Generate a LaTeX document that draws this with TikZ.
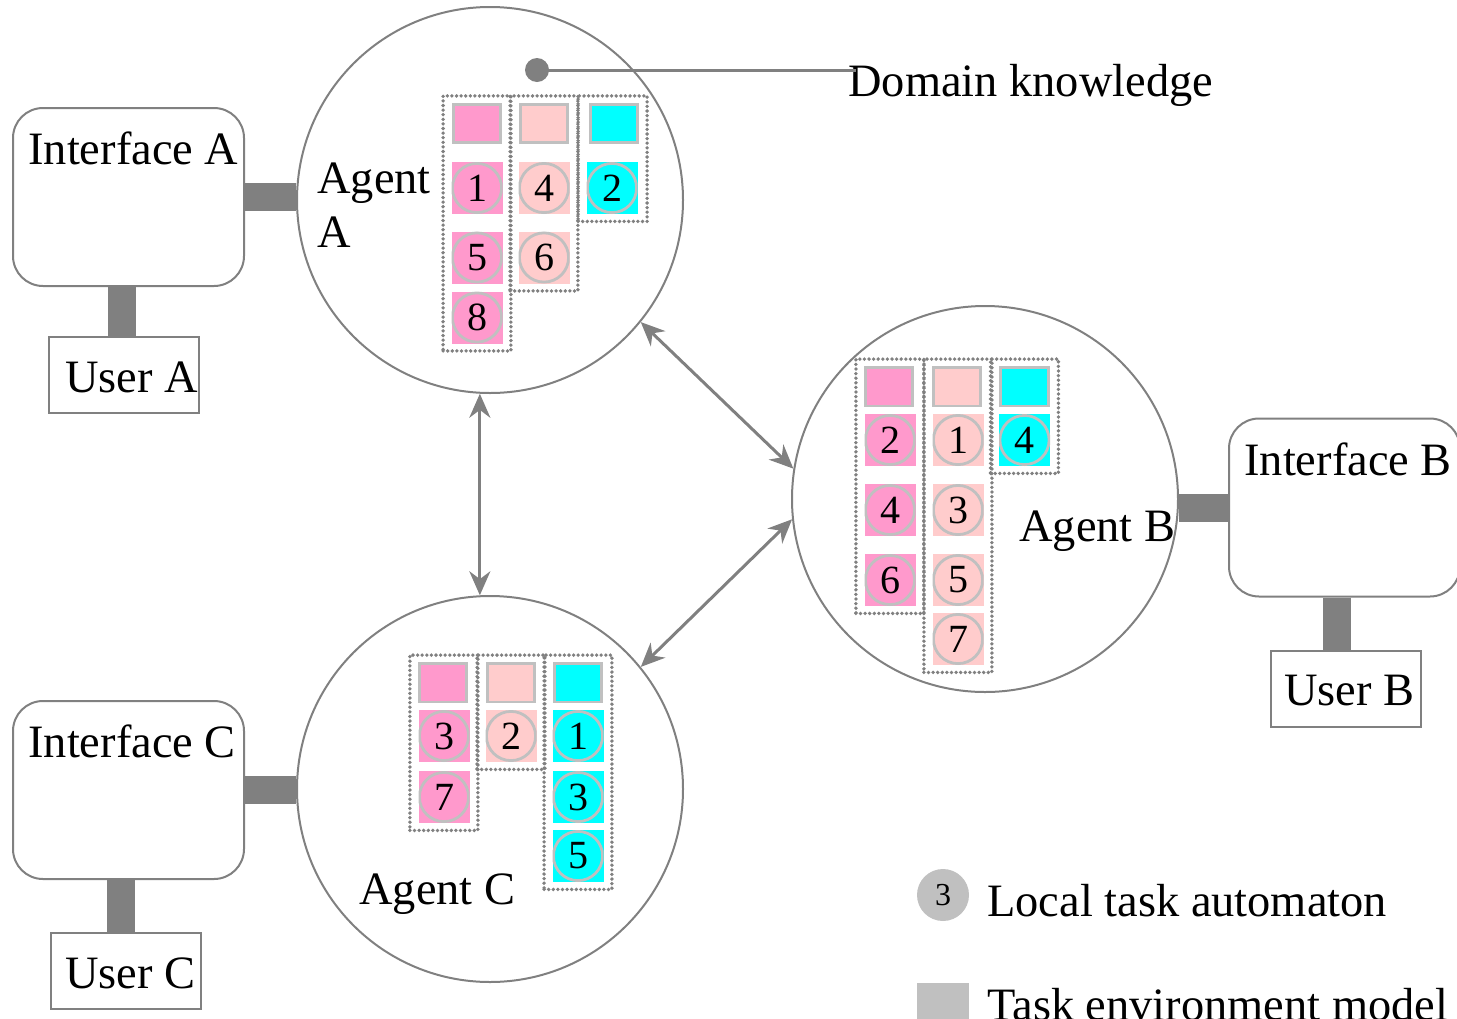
\documentclass[tikz,border=0pt]{standalone}
\usepackage{fontspec}
\setmainfont{Liberation Serif}
\usetikzlibrary{arrows.meta,fit}

\definecolor{hotpink}{RGB}{255,153,204}
\definecolor{palepink}{RGB}{255,204,204}
\definecolor{aqua}{RGB}{0,255,255}
\definecolor{ringgray}{RGB}{192,192,192}
\definecolor{linegray}{RGB}{128,128,128}

\newcommand{\cellfont}{\fontsize{20}{24}\selectfont}
\newcommand{\keyfont}{\fontsize{16}{19}\selectfont}

\tikzset{
  agent/.style = {circle, draw=linegray, line width=1pt, minimum size=193pt, inner sep=0pt},
  iface/.style = {rectangle, rounded corners=15pt, draw=linegray, line width=1pt, minimum width=115.5pt, minimum height=89pt},
  user/.style = {rectangle, draw=linegray, line width=1pt, minimum width=75pt, minimum height=38pt},
  txt/.style = {inner sep=0pt, anchor=base west},
  envmodel/.style = {rectangle, fill=#1, draw=ringgray, line width=1.4pt, minimum width=23.7pt, minimum height=19.2pt, inner sep=0pt},
  automaton/.style = {rectangle, fill=#1, minimum width=25.5pt, minimum height=26pt, inner sep=0pt, font=\cellfont,
    path picture={\draw[ringgray, line width=1.4pt] (path picture bounding box.center) circle (12.3pt);}},
  colgroup/.style = {draw=linegray, line width=1.9pt, dash pattern=on 0pt off 2.3pt, line cap=round, inner xsep=4pt, inner ysep=3.5pt},
  bar/.style = {draw=linegray, line width=14pt},
  link/.style = {draw=linegray, line width=1.5pt, {Stealth[length=12pt,width=10.5pt]}-{Stealth[length=12pt,width=10.5pt]}}
}

\begin{document}
\begin{tikzpicture}[x={(0.5pt,0)}, y={(0,-0.5pt)}, font=\fontsize{23.2}{27}\selectfont]
  \useasboundingbox (0,0) rectangle (1457,1018);

  % interfaces and users
  \node [iface] (ifA) at (128.5,197) {};
  \node [iface] (ifB) at (1344.5,507.5) {};
  \node [iface] (ifC) at (128.5,790) {};
  \node [user] (usrA) at (124,375) {};
  \node [user] (usrB) at (1345.5,689) {};
  \node [user] (usrC) at (126,970.5) {};
  \node [txt] (ifAtxt) at (28,164) {Interface A};
  \node [txt] (ifBtxt) at (1244,475) {Interface B};
  \node [txt] (ifCtxt) at (28,757) {Interface C};
  \node [txt] (usrAtxt) at (65,392) {User A};
  \node [txt] (usrBtxt) at (1284,705) {User B};
  \node [txt] (usrCtxt) at (65,988) {User C};

  % agents
  \node [agent] (agA) at (490,200) {};
  \node [agent] (agB) at (985,499) {};
  \node [agent] (agC) at (490,789) {};
  \node [inner sep=0pt, anchor=north west, align=left] (agAtxt) at (317,162) {Agent\\A};
  \node [txt] (agBtxt) at (1019,541) {Agent B};
  \node [txt] (agCtxt) at (359,904) {Agent C};

  % thick couplings
  \coordinate (uatop) at ([xshift=-0.8pt]usrA.north);
  \coordinate (ubtop) at ([xshift=-4.5pt]usrB.north);
  \coordinate (uctop) at ([xshift=-2.5pt]usrC.north);
  \draw [bar] (ifA.east) -- (ifA.east -| agA.west);
  \draw [bar] (ifC.east) -- (ifC.east -| agC.west);
  \draw [bar] (ifB.west) -- (ifB.west -| agB.east);
  \draw [bar] (uatop |- ifA.south) -- (uatop);
  \draw [bar] (uctop |- ifC.south) -- (uctop);
  \draw [bar] (ubtop |- ifB.south) -- (ubtop);

  % agent A models
  \node [envmodel=hotpink] (apm) at (477,123.5) {};
  \node [envmodel=palepink] (alm) at (544,123.5) {};
  \node [envmodel=aqua] (acm) at (614,123.5) {};
  \node [automaton=hotpink] (ap1) at (477,188) {1};
  \node [automaton=hotpink] (ap5) at (477,257.5) {5};
  \node [automaton=hotpink] (ap8) at (477,317.5) {8};
  \node [automaton=palepink] (al4) at (544,188) {4};
  \node [automaton=palepink] (al6) at (544,257.5) {6};
  \node [automaton=aqua] (ac2) at (612,188) {2};
  \node [colgroup, fit=(apm)(ap8)] (agrpp) {};
  \node [colgroup, fit=(alm)(al6)] (agrpl) {};
  \node [colgroup, fit=(acm)(ac2)] (agrpc) {};

  % agent B models
  \node [envmodel=hotpink] (bpm) at (889,386.7) {};
  \node [envmodel=palepink] (blm) at (957,386.7) {};
  \node [envmodel=aqua] (bcm) at (1024.5,386.7) {};
  \node [automaton=hotpink] (bp2) at (890,440) {2};
  \node [automaton=hotpink] (bp4) at (890,510) {4};
  \node [automaton=hotpink] (bp6) at (890,580) {6};
  \node [automaton=palepink] (bl1) at (958,440) {1};
  \node [automaton=palepink] (bl3) at (958,510) {3};
  \node [automaton=palepink] (bl5) at (958,580) {5};
  \node [automaton=palepink] (bl7) at (958,639) {7};
  \node [automaton=aqua] (bc4) at (1024.5,440) {4};
  \node [colgroup, fit=(bpm)(bp6)] (bgrpp) {};
  \node [colgroup, fit=(blm)(bl7)] (bgrpl) {};
  \node [colgroup, fit=(bcm)(bc4)] (bgrpc) {};

  % agent C models
  \node [envmodel=hotpink] (cpm) at (443,682.7) {};
  \node [envmodel=palepink] (clm) at (511,682.7) {};
  \node [envmodel=aqua] (ccm) at (578,682.7) {};
  \node [automaton=hotpink] (cp3) at (444,736) {3};
  \node [automaton=hotpink] (cp7) at (444,797) {7};
  \node [automaton=palepink] (cl2) at (511,736) {2};
  \node [automaton=aqua] (cc1) at (578,736) {1};
  \node [automaton=aqua] (cc3) at (578,797) {3};
  \node [automaton=aqua] (cc5) at (578,856) {5};
  \node [colgroup, fit=(cpm)(cp7)] (cgrpp) {};
  \node [colgroup, fit=(clm)(cl2)] (cgrpl) {};
  \node [colgroup, fit=(ccm)(cc5)] (cgrpc) {};

  % links between agents
  \draw [link] (agA.-93) -- (agC.93);
  \draw [link] (agA.-39) -- (agB.171);
  \draw [link] (agC.39) -- (agB.186);

  % domain knowledge pointer
  \node [circle, fill=linegray, minimum size=12pt, inner sep=0pt] (dk) at (537,70) {};
  \node [txt] (dktxt) at (848,96) {Domain knowledge};
  \draw [linegray, line width=1.5pt] (dk.center) -- (dk -| dktxt.west) -- ++(4pt,0);

  % key
  \node [circle, fill=ringgray, minimum size=26pt, inner sep=0pt, font=\keyfont] (keyauto) at (943,895) {3};
  \node [txt] (keyautotxt) at (987,916) {Local task automaton};
  \node [rectangle, fill=ringgray, minimum size=26pt, inner sep=0pt] (keyenv) at (943,1009) {};
  \node [txt] (keyenvtxt) at (987,1020) {Task environment model};
\end{tikzpicture}
\end{document}
